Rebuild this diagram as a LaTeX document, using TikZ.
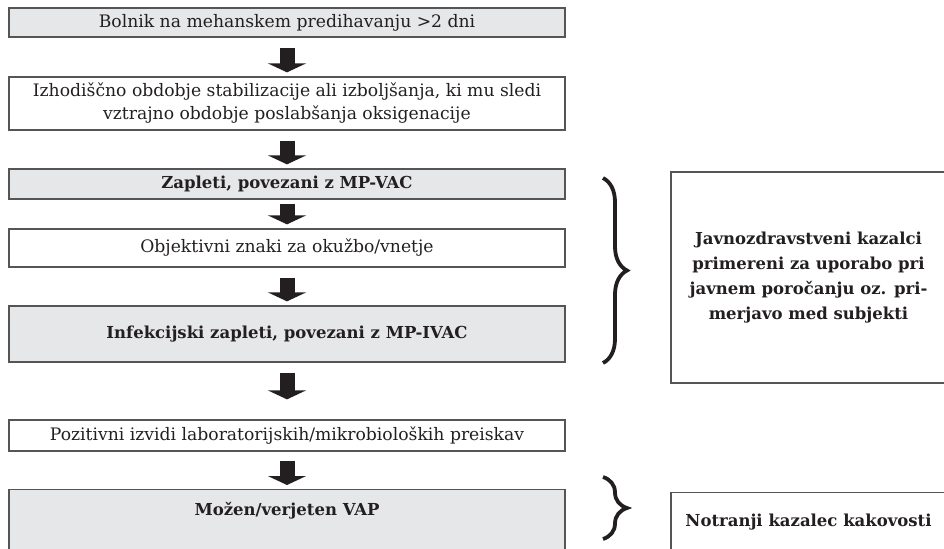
\documentclass[tikz,border=0pt]{standalone}
\usepackage{fontspec}
\setmainfont{DejaVu Serif}
\usetikzlibrary{arrows.meta,decorations.pathreplacing}
\definecolor{shade}{HTML}{E6E7E8}
\definecolor{edge}{HTML}{555555}
\definecolor{ink}{HTML}{231F20}
\begin{document}
\begin{tikzpicture}[
    x=0.5pt, y=-0.5pt,
    every node/.style={font=\fontsize{8.6}{11.5}\selectfont,text=ink},
    box/.style={draw=edge,line width=.65pt,minimum width=278pt,inner sep=0pt,align=center},
    shaded/.style={box,fill=shade},
    strong/.style={font=\fontsize{8.25}{12.5}\selectfont\bfseries},
    flow/.style={draw=ink,line width=7.5pt,-{Triangle[width=19pt,length=4.5pt]},
        shorten <=#1,shorten >=2pt},
    curly/.style={decorate,decoration={brace,amplitude=12pt},line width=1.9pt,draw=ink}]
    \path[use as bounding box,clip] (0,0) rectangle (944,548);

    \node[shaded,minimum height=14.5pt] (patient) at (287,22.5)
        {Bolnik na mehanskem predihavanju >2 dni};
    \node[box,minimum height=26.5pt] (baseline) at (287,103.5)
        {Izhodiščno obdobje stabilizacije ali izboljšanja, ki mu sledi\\
         vztrajno obdobje poslabšanja oksigenacije};
    \node[shaded,strong,minimum height=15pt] (vac) at (287,184)
        {Zapleti, povezani z MP-VAC};
    \node[box,minimum height=19pt] (signs) at (287,248)
        {Objektivni znaki za okužbo/vnetje};
    \node[shaded,strong,minimum height=28pt] (ivac) at (287,334)
        {Infekcijski zapleti, povezani z MP-IVAC};
    \node[box,minimum height=15.5pt] (lab) at (287,435.5)
        {Pozitivni izvidi laboratorijskih/mikrobioloških preiskav};
    \node[shaded,strong,anchor=north,inner ysep=0pt,text height=13pt,text depth=30pt]
        (vap) at (287,489) {Možen/verjeten VAP};

    \draw[flow=5pt] (patient.south) -- (baseline.north);
    \draw[flow=5pt] (baseline.south) -- (vac.north);
    \draw[flow=2pt] (vac.south) -- (signs.north);
    \draw[flow=5pt] (signs.south) -- (ivac.north);
    \draw[flow=5pt,shorten >=10pt] (ivac.south) -- (lab.north);
    \draw[flow=4.5pt] (lab.south) -- (vap.north);

    \node[box,strong,minimum width=137.5pt,minimum height=105.5pt] (public) at (808.5,277.5)
        {Javnozdravstveni kazalci\\ primereni za uporabo pri\\
         javnem poročanju oz. pri-\\ merjavo med subjekti};
    \node[box,strong,minimum width=137.5pt,anchor=north,inner ysep=0pt,
        text height=17pt,text depth=20pt] (internal) at (808.5,492)
        {Notranji kazalec kakovosti};

    \coordinate (top1) at (603,178);
    \coordinate (bot1) at (603,363);
    \coordinate (top2) at (603,477);
    \coordinate (bot2) at (603,539);
    \draw[curly] (top1) -- (bot1);
    \draw[curly] (top2) -- (bot2);
\end{tikzpicture}
\end{document}
